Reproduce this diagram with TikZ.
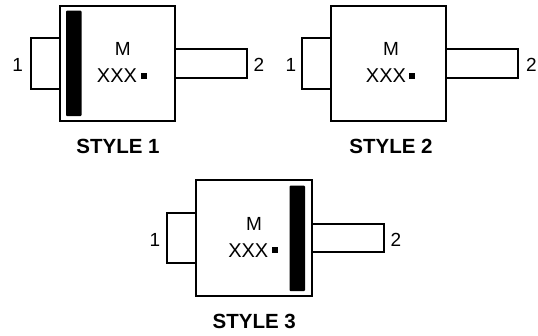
\documentclass[tikz,border=0pt]{standalone}
\usepackage{fontspec}
\setmainfont{Liberation Sans}
\tikzset{
  x=1pt,y=-1pt,
  body/.style={draw=black,line width=2pt,fill=white,minimum width=115.5pt,minimum height=115.5pt,inner sep=0pt,anchor=north west,outer sep=0pt},
  tab/.style={draw=black,line width=2pt,fill=white,line join=miter},
  thickbar/.style={fill=black,rounded corners=1pt},
  lbl/.style={font=\fontsize{19}{22}\selectfont,inner sep=0pt,text=black},
  xlbl/.style={font=\fontsize{20}{22}\selectfont,inner sep=0pt,text=black},
  stylecap/.style={font=\fontsize{20.5}{24}\bfseries\selectfont,inner sep=0pt,text=black}
}
\begin{document}
\begin{tikzpicture}
\useasboundingbox (0,0) rectangle (538,335);
\begin{scope}[shift={(0,0)}]
  \draw[tab] (59.5,38) -- (30.5,38) -- (30.5,88.5) -- (59.5,88.5);
  \draw[tab] (175,49) -- (247,49) -- (247,77.5) -- (175,77.5);
  \node[body] (a) at (59.5,5.5) {};
  \fill[thickbar] (66,10.5) rectangle (81.5,116);
  \node[lbl] (am) at (122.7,49) {M};
  \node[xlbl] (ax) at (117,76) {XXX};
  \fill (141,73) rectangle (147,79);
  \node[lbl] (a1) at (17.7,65) {1};
  \node[lbl] (a2) at (259,65) {2};
  \node[stylecap] (ac) at (118,146.7) {STYLE 1};
\end{scope}
\begin{scope}[shift={(271,0)}]
  \draw[tab] (59.5,38) -- (30.5,38) -- (30.5,88.5) -- (59.5,88.5);
  \draw[tab] (175,49) -- (247,49) -- (247,77.5) -- (175,77.5);
  \node[body] (b) at (59.5,5.5) {};
  \node[lbl] (bm) at (120,49) {M};
  \node[xlbl] (bx) at (115,76) {XXX};
  \fill (138.3,73) rectangle (144.3,79);
  \node[lbl] (b1) at (20,65) {1};
  \node[lbl] (b2) at (260.5,65) {2};
  \node[stylecap] (bc) at (120,146.7) {STYLE 2};
\end{scope}
\begin{scope}[shift={(136.5,174.5)}]
  \draw[tab] (59.5,38) -- (30.5,38) -- (30.5,88.5) -- (59.5,88.5);
  \draw[tab] (175,49) -- (247,49) -- (247,77.5) -- (175,77.5);
  \node[body] (c) at (59.5,5.5) {};
  \fill[thickbar] (153,11) rectangle (168.5,116.5);
  \node[lbl] (cm) at (117.5,49) {M};
  \node[xlbl] (cx) at (111.8,76) {XXX};
  \fill (135.8,72.5) rectangle (141.8,78.5);
  \node[lbl] (c1) at (18.5,65) {1};
  \node[lbl] (c2) at (259.5,65) {2};
  \node[stylecap] (cc) at (117.8,146.5) {STYLE 3};
\end{scope}
\end{tikzpicture}
\end{document}
